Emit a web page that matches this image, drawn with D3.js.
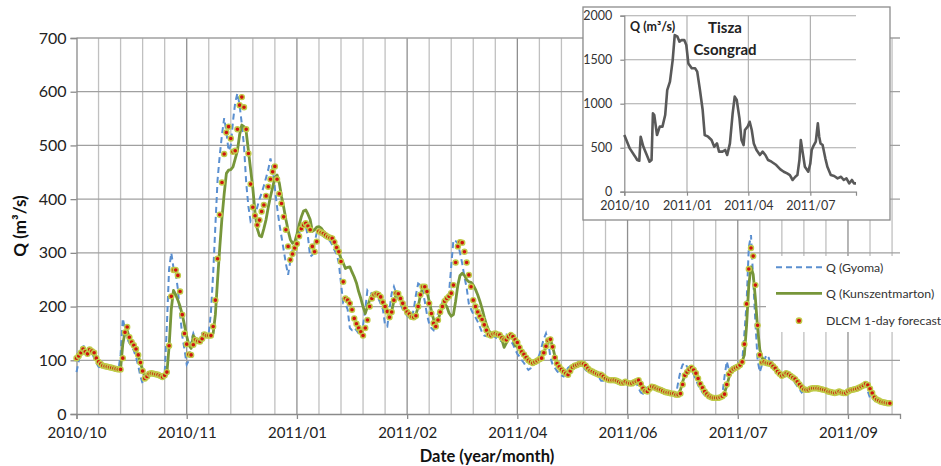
<!DOCTYPE html>
<html>
<head>
<meta charset="utf-8">
<script src="https://cdn.jsdelivr.net/npm/d3@7"></script>
<style>
  body { margin: 0; background: #fff; }
  svg { display: block; font-family: Lato, "Open Sans", sans-serif; }
</style>
</head>
<body>
<svg id="chart" width="941" height="466"></svg>
<script>
// Daily discharge series, day 0 = 2010-10-01
const gyoma = [
  78,98,120,130,113,110,118,114,104,95,
  88,86,90,88,86,85,84,83,82,82,
  110,178,158,140,132,126,118,106,90,70,
  57,68,74,75,74,73,71,69,68,66,
  75,165,270,300,272,262,232,185,145,120,
  92,100,135,150,140,137,142,150,148,146,
  150,190,262,350,436,482,520,551,525,490,
  500,545,580,597,575,540,498,430,386,358,
  362,371,385,400,411,425,440,455,476,455,
  420,385,355,330,305,280,259,285,305,312,
  325,336,350,355,350,330,293,296,318,338,
  336,334,331,328,326,322,315,305,298,281,
  243,206,205,195,160,156,160,156,150,145,
  165,195,231,228,224,222,220,215,205,195,
  165,163,195,225,237,225,215,205,195,188,
  183,180,178,195,222,243,240,230,210,185,
  168,160,156,170,188,198,208,213,218,225,
  275,324,322,318,300,280,255,235,205,195,
  186,180,172,162,152,146,145,148,150,146,
  143,140,137,135,145,148,143,136,130,120,
  112,107,100,95,88,82,85,95,98,101,
  110,125,140,150,135,105,92,86,80,76,
  72,70,78,86,89,90,92,93,94,93,
  88,82,79,77,75,73,72,68,62,62,
  63,63,62,61,59,57,57,59,57,56,
  56,58,61,64,58,48,40,38,45,50,
  50,48,46,45,43,41,40,39,38,37,
  36,35,36,60,80,92,95,88,84,80,
  74,64,54,47,40,35,32,30,29,29,
  29,30,32,36,70,98,82,85,88,90,
  92,98,97,150,206,310,333,250,170,100,
  78,92,100,110,105,92,86,80,74,72,
  75,74,72,70,66,62,58,52,46,40,
  44,45,46,48,48,48,47,46,45,43,
  42,40,39,38,39,43,40,38,38,41,
  44,45,46,47,49,51,53,55,53,42,
  30,28,26,24,22,22,21,20,20,19
];
const kunszentmarton = [
  112,110,112,115,114,112,115,113,110,104,
  98,94,91,89,88,87,86,85,84,83,
  84,130,152,155,142,135,128,120,108,95,
  82,72,70,72,74,74,73,72,70,69,
  70,76,125,195,230,222,212,200,185,165,
  145,128,122,146,140,136,138,143,147,146,
  146,146,150,185,250,310,365,410,448,454,
  455,460,475,490,520,538,535,525,490,455,
  420,375,345,332,330,345,362,385,405,422,
  440,445,430,405,385,362,342,325,318,320,
  335,352,367,378,380,372,362,340,343,348,
  349,346,340,336,333,330,325,320,312,300,
  290,281,271,273,274,264,255,244,228,215,
  200,187,200,212,222,224,223,220,214,205,
  198,190,186,192,210,222,222,215,206,198,
  192,187,183,182,185,200,220,235,236,228,
  210,192,176,168,175,188,198,205,200,188,
  182,185,210,240,258,262,258,250,246,245,
  240,232,222,210,196,180,166,156,150,150,
  151,150,145,138,124,132,140,147,140,128,
  125,120,114,110,104,100,97,96,97,99,
  102,105,114,125,135,138,126,108,96,89,
  84,80,77,75,78,85,89,91,93,94,
  93,90,86,82,79,77,75,73,72,70,
  67,64,63,63,63,62,60,59,58,59,
  58,57,57,58,60,62,57,50,45,43,
  46,50,50,48,46,45,43,41,40,39,
  38,38,37,38,45,60,72,80,84,85,
  82,76,67,57,50,43,38,34,32,31,
  30,30,31,34,40,52,68,78,83,86,
  88,92,98,110,165,240,274,260,215,160,
  120,105,100,97,95,93,89,85,80,76,
  72,73,75,74,71,68,65,61,56,51,
  47,46,46,47,48,48,48,47,46,45,
  44,42,41,40,40,40,41,40,39,39,
  42,44,45,46,47,49,51,53,55,53,
  47,40,32,28,25,23,22,21,20,20
];
const forecast = [
  104,108,114,121,116,112,120,117,114,104,
  97,93,90,89,88,87,86,85,84,83,
  83,104,152,162,143,134,128,121,110,96,
  80,66,70,75,76,75,74,73,71,69,
  72,78,127,219,268,268,258,228,185,150,
  130,111,110,129,138,136,135,140,148,146,
  146,146,163,212,289,371,431,484,524,535,
  513,488,490,530,575,590,571,530,485,428,
  385,369,352,361,377,389,406,423,437,451,
  461,437,410,392,367,343,312,287,298,309,
  317,331,345,352,355,350,343,312,302,321,
  340,338,336,333,330,328,327,320,310,302,
  284,246,215,212,206,194,178,168,160,153,
  146,160,175,200,215,222,224,222,218,208,
  200,191,180,190,212,225,224,215,206,197,
  190,186,181,180,183,200,222,237,237,228,
  206,187,169,163,175,190,200,210,215,219,
  225,240,282,312,320,319,302,282,259,237,
  212,200,190,182,176,166,156,148,146,149,
  150,148,147,142,139,138,144,147,144,138,
  133,124,116,111,105,100,97,95,97,99,
  102,104,114,126,137,139,125,105,94,88,
  83,79,76,73,80,87,90,91,93,94,
  93,90,85,81,79,77,75,73,73,70,
  66,64,63,63,63,62,60,58,58,60,
  58,57,57,59,61,63,56,48,43,42,
  47,51,50,48,46,45,43,41,40,39,
  38,38,36,36,38,55,72,78,83,86,
  82,76,66,56,49,42,37,33,31,30,
  30,30,31,33,37,55,74,80,84,86,
  88,91,97,130,205,270,309,294,240,165,
  110,96,97,95,94,93,89,85,79,75,
  71,73,76,74,71,68,65,60,55,50,
  46,45,45,47,48,48,48,47,46,45,
  44,42,41,40,39,40,42,40,39,39,
  42,44,45,46,47,49,51,53,56,54,
  47,39,31,27,25,23,22,21,20,20
];

const xTickDays = [0, 50, 100, 150, 200, 250, 300, 350];
const xTickLabels = ["2010/10", "2010/11", "2011/01", "2011/02", "2011/04", "2011/06", "2011/07", "2011/09"];
const yTicks = [0, 100, 200, 300, 400, 500, 600, 700];
const legendLabels = ["Q (Gyoma)", "Q (Kunszentmarton)", "DLCM 1-day forecast"];

// Inset: Tisza at Csongrad, day offsets from 2010-10-01
const insetDays = [0,3,8,16,19,22,24,28,33,37,40,42,44,48,52,56,60,63,67,71,74,78,81,84,88,91,94,99,104,107,111,115,118,123,128,132,136,139,144,148,151,155,159,162,165,169,172,175,177,181,184,187,190,194,199,203,207,211,216,223,229,234,239,243,247,251,254,257,259,262,265,270,273,275,277,281,284,286,288,291,295,298,303,308,313,318,322,326,330,334,337,340];
const insetQ = [644,587,492,398,360,352,625,511,417,341,360,890,871,644,739,739,871,1155,1250,1496,1780,1761,1705,1723,1723,1667,1458,1402,1402,1364,1155,928,644,625,587,511,549,455,455,474,417,549,890,1080,1042,833,587,530,701,739,795,701,549,473,417,455,417,360,341,303,254,227,208,189,133,170,189,360,587,436,284,227,322,473,511,568,777,625,549,530,379,284,189,178,152,170,133,152,95,133,95,95];
const insetTickDays = [0, 92, 182, 273];
const insetTickLabels = ["2010/10", "2011/01", "2011/04", "2011/07"];
const insetYTicks = [0, 500, 1000, 1500, 2000];

const svg = d3.select("#chart");
const plot = { left: 76.5, right: 900, top: 38, bottom: 414 };
const x = d3.scaleLinear().domain([0, 373.6]).range([plot.left, plot.right]);
const y = d3.scaleLinear().domain([0, 700]).range([plot.bottom, plot.top]);

const COL_GYOMA = "#5a8fd0", COL_KUNSZ = "#77963a", COL_DOT = "#cf130e", COL_RING = "#bfcb48";

// ---- grid ----
const grid = svg.append("g");
const minorDays = d3.range(10, 371, 10);
grid.selectAll("line.v").data(minorDays).join("line")
  .attr("x1", d => x(d)).attr("x2", d => x(d))
  .attr("y1", plot.top).attr("y2", plot.bottom)
  .attr("stroke", d => xTickDays.includes(d) ? "#8f8f8f" : "#c0c0c0")
  .attr("stroke-width", 1.3);
grid.selectAll("line.h").data(yTicks.filter(v => v > 0)).join("line")
  .attr("x1", plot.left).attr("x2", plot.right)
  .attr("y1", d => y(d)).attr("y2", d => y(d))
  .attr("stroke", "#a0a0a0").attr("stroke-width", 1.3);

// ---- axes ----
const xAxis = svg.append("g").attr("transform", `translate(0,${plot.bottom})`)
  .call(d3.axisBottom(x).tickValues(xTickDays).tickFormat((d, i) => xTickLabels[i]).tickSize(5).tickPadding(8));
const yAxis = svg.append("g").attr("transform", `translate(${plot.left},0)`)
  .call(d3.axisLeft(y).tickValues(yTicks).tickSize(6).tickPadding(4));
[xAxis, yAxis].forEach(a => {
  a.select(".domain").attr("stroke", "#8a8a8a").attr("stroke-width", 1.3);
  a.selectAll(".tick line").attr("stroke", "#8a8a8a").attr("stroke-width", 1.3);
  a.selectAll(".tick text").attr("fill", "#222").attr("font-family", "Lato, sans-serif");
});
xAxis.selectAll(".tick text").attr("font-size", 15);
yAxis.selectAll(".tick text").attr("font-size", 16);

svg.append("text").attr("x", 487).attr("y", 462).attr("text-anchor", "middle")
  .attr("font-size", 16.5).attr("font-weight", "bold").attr("fill", "#111")
  .text("Date (year/month)");
svg.append("text").attr("transform", "translate(26,226) rotate(-90)").attr("text-anchor", "middle")
  .attr("font-size", 17).attr("font-weight", "bold").attr("fill", "#111")
  .text("Q (m³/s)");

// ---- series ----
const line = series => d3.line().x((d, i) => x(i)).y(d => y(d))(series);
svg.append("path").attr("d", line(gyoma)).attr("fill", "none")
  .attr("stroke", COL_GYOMA).attr("stroke-width", 2).attr("stroke-dasharray", "6,4");
svg.append("path").attr("d", line(kunszentmarton)).attr("fill", "none")
  .attr("stroke", COL_KUNSZ).attr("stroke-width", 2.8).attr("stroke-linejoin", "round");
svg.append("g").selectAll("circle").data(forecast).join("circle")
  .attr("cx", (d, i) => x(i)).attr("cy", d => y(d)).attr("r", 2.5)
  .attr("fill", COL_DOT).attr("stroke", COL_RING).attr("stroke-width", 1.4);

// ---- legend ----
const lg = svg.append("g");
lg.append("rect").attr("x", 766).attr("y", 256).attr("width", 175).attr("height", 76).attr("fill", "#fff");
const rows = [267.3, 293.3, 320.7];
lg.append("line").attr("x1", 776).attr("x2", 822).attr("y1", rows[0]).attr("y2", rows[0])
  .attr("stroke", COL_GYOMA).attr("stroke-width", 2).attr("stroke-dasharray", "6,4");
lg.append("line").attr("x1", 776).attr("x2", 822).attr("y1", rows[1]).attr("y2", rows[1])
  .attr("stroke", COL_KUNSZ).attr("stroke-width", 2.8);
lg.append("circle").attr("cx", 799).attr("cy", rows[2]).attr("r", 2.7)
  .attr("fill", COL_DOT).attr("stroke", COL_RING).attr("stroke-width", 1.4);
lg.selectAll("text").data(legendLabels).join("text")
  .attr("x", 826).attr("y", (d, i) => rows[i] + 4.3)
  .attr("font-size", 12.3).attr("fill", "#333").text(d => d);

// ---- inset ----
const ins = svg.append("g");
ins.append("rect").attr("x", 583).attr("y", 7).attr("width", 307).attr("height", 213)
  .attr("fill", "#fff").attr("stroke", "#8c8c8c").attr("stroke-width", 1.3);
const ix = d3.scaleLinear().domain([0, 340]).range([624.3, 856]);
const iy = d3.scaleLinear().domain([0, 2000]).range([191.7, 15.7]);
ins.selectAll("line.ih").data(insetYTicks.filter(v => v > 0)).join("line")
  .attr("x1", ix(0)).attr("x2", ix(340)).attr("y1", d => iy(d)).attr("y2", d => iy(d))
  .attr("stroke", "#a8a8a8").attr("stroke-width", 1.1);
ins.selectAll("line.iv").data(insetTickDays.filter(v => v > 0)).join("line")
  .attr("x1", d => ix(d)).attr("x2", d => ix(d)).attr("y1", iy(2000)).attr("y2", iy(0))
  .attr("stroke", "#a8a8a8").attr("stroke-width", 1.1);
const ixAxis = ins.append("g").attr("transform", `translate(0,${iy(0)})`)
  .call(d3.axisBottom(ix).tickValues(insetTickDays).tickFormat((d, i) => insetTickLabels[i]).tickSize(4).tickPadding(5));
const iyAxis = ins.append("g").attr("transform", `translate(${ix(0)},0)`)
  .call(d3.axisLeft(iy).tickValues(insetYTicks).tickFormat(d3.format("d")).tickSize(4).tickPadding(8));
[ixAxis, iyAxis].forEach(a => {
  a.select(".domain").attr("stroke", "#8a8a8a").attr("stroke-width", 1.2);
  a.selectAll(".tick line").attr("stroke", "#8a8a8a").attr("stroke-width", 1.2);
  a.selectAll(".tick text").attr("fill", "#333").attr("font-size", 12.5).attr("font-family", "Lato, sans-serif");
});
ins.append("path")
  .attr("d", d3.line().x((d, i) => ix(insetDays[i])).y(d => iy(d))(insetQ))
  .attr("fill", "none").attr("stroke", "#595959").attr("stroke-width", 2.6).attr("stroke-linejoin", "round");
ins.append("text").attr("x", 630).attr("y", 31).attr("font-size", 12.5).attr("font-weight", "bold")
  .attr("fill", "#222").text("Q (m³/s)");
ins.append("text").attr("x", 725).attr("y", 33).attr("text-anchor", "middle").attr("font-size", 15)
  .attr("font-weight", "bold").attr("fill", "#222").text("Tisza");
ins.append("text").attr("x", 725).attr("y", 55).attr("text-anchor", "middle").attr("font-size", 15)
  .attr("font-weight", "bold").attr("fill", "#222").text("Csongrad");
</script>
</body>
</html>
